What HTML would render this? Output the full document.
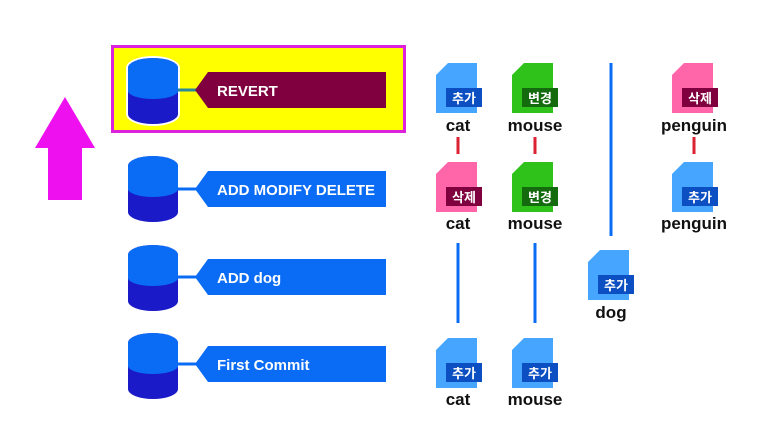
<!DOCTYPE html>
<html><head><meta charset="utf-8"><style>
html,body{margin:0;padding:0;background:#fff;width:774px;height:429px;overflow:hidden}
svg text{font-family:"Liberation Sans","Noto Sans CJK KR",sans-serif;font-weight:bold}
</style></head><body>
<svg width="774" height="429" viewBox="0 0 774 429" xmlns="http://www.w3.org/2000/svg">
<defs>
<g id="cyl">
  <path d="M0,10 A25,10 0 0 1 50,10 L50,56 A25,10 0 0 1 0,56 Z" fill="#1a1ac8"/>
  <path d="M0,10 A25,10 0 0 1 50,10 L50,33 A25,8 0 0 1 0,33 Z" fill="#0a6cf5"/>
</g>
</defs>
<!-- arrow -->
<polygon points="65,97 95,148 82,148 82,200 48,200 48,148 35,148" fill="#ee10ee"/>
<!-- yellow box -->
<rect x="112.5" y="46.5" width="292" height="85" fill="#ffff00" stroke="#dd22dd" stroke-width="3"/>
<!-- cylinders -->
<g transform="translate(128,58)"><path d="M-2,10 A27,12 0 0 1 52,10 L52,56 A27,12 0 0 1 -2,56 Z" fill="#fff"/><use href="#cyl"/></g>
<g transform="translate(128,156)"><use href="#cyl"/></g>
<g transform="translate(128,245)"><use href="#cyl"/></g>
<g transform="translate(128,333)"><use href="#cyl"/></g>
<!-- connectors -->
<g stroke-width="3">
<line x1="178" y1="90" x2="198" y2="90" stroke="#2a8a9a"/>
<line x1="178" y1="189" x2="198" y2="189" stroke="#0a6cf5"/>
<line x1="178" y1="277" x2="198" y2="277" stroke="#0a6cf5"/>
<line x1="178" y1="364" x2="198" y2="364" stroke="#0a6cf5"/>
</g>
<!-- banners -->
<polygon points="195,90 208,72 386,72 386,108 208,108" fill="#80003f"/>
<polygon points="195,189 208,171 386,171 386,207 208,207" fill="#0a6cf5"/>
<polygon points="195,277 208,259 386,259 386,295 208,295" fill="#0a6cf5"/>
<polygon points="195,364 208,346 386,346 386,382 208,382" fill="#0a6cf5"/>
<g fill="#fff" font-size="15">
<text x="217" y="96">REVERT</text>
<text x="217" y="195">ADD MODIFY DELETE</text>
<text x="217" y="283">ADD dog</text>
<text x="217" y="370">First Commit</text>
</g>
<!-- lines -->
<g stroke-width="3">
<line x1="458" y1="137" x2="458" y2="154" stroke="#dd2233"/>
<line x1="535" y1="137" x2="535" y2="154" stroke="#dd2233"/>
<line x1="694" y1="137" x2="694" y2="154" stroke="#dd2233"/>
<line x1="458" y1="243" x2="458" y2="323" stroke="#0a6cf5"/>
<line x1="535" y1="243" x2="535" y2="323" stroke="#0a6cf5"/>
<line x1="611" y1="63" x2="611" y2="236" stroke="#0a6cf5"/>
</g>
<!-- file icons -->
<g font-size="13">
<!-- row1 -->
<polygon points="448,63 477,63 477,113 436,113 436,75" fill="#45a5ff"/>
<rect x="446" y="88" width="36" height="19" fill="#0b4fc2"/><text x="464" y="103" fill="#fff" text-anchor="middle">추가</text>
<polygon points="524,63 553,63 553,113 512,113 512,75" fill="#2ec21b"/>
<rect x="522" y="88" width="36" height="19" fill="#136b0e"/><text x="540" y="103" fill="#fff" text-anchor="middle">변경</text>
<polygon points="684,63 713,63 713,113 672,113 672,75" fill="#ff66aa"/>
<rect x="682" y="88" width="36" height="19" fill="#80003f"/><text x="700" y="103" fill="#fff" text-anchor="middle">삭제</text>
<!-- row2 -->
<polygon points="448,162 477,162 477,212 436,212 436,174" fill="#ff66aa"/>
<rect x="446" y="187" width="36" height="19" fill="#80003f"/><text x="464" y="202" fill="#fff" text-anchor="middle">삭제</text>
<polygon points="524,162 553,162 553,212 512,212 512,174" fill="#2ec21b"/>
<rect x="522" y="187" width="36" height="19" fill="#136b0e"/><text x="540" y="202" fill="#fff" text-anchor="middle">변경</text>
<polygon points="684,162 713,162 713,212 672,212 672,174" fill="#45a5ff"/>
<rect x="682" y="187" width="36" height="19" fill="#0b4fc2"/><text x="700" y="202" fill="#fff" text-anchor="middle">추가</text>
<!-- dog -->
<polygon points="600,250 629,250 629,300 588,300 588,262" fill="#45a5ff"/>
<rect x="598" y="275" width="36" height="19" fill="#0b4fc2"/><text x="616" y="290" fill="#fff" text-anchor="middle">추가</text>
<!-- bottom -->
<polygon points="448,338 477,338 477,388 436,388 436,350" fill="#45a5ff"/>
<rect x="446" y="363" width="36" height="19" fill="#0b4fc2"/><text x="464" y="378" fill="#fff" text-anchor="middle">추가</text>
<polygon points="524,338 553,338 553,388 512,388 512,350" fill="#45a5ff"/>
<rect x="522" y="363" width="36" height="19" fill="#0b4fc2"/><text x="540" y="378" fill="#fff" text-anchor="middle">추가</text>
</g>
<g font-size="17" fill="#111" text-anchor="middle">
<text x="458" y="131">cat</text>
<text x="535" y="131">mouse</text>
<text x="694" y="131">penguin</text>
<text x="458" y="229">cat</text>
<text x="535" y="229">mouse</text>
<text x="694" y="229">penguin</text>
<text x="611" y="318">dog</text>
<text x="458" y="405">cat</text>
<text x="535" y="405">mouse</text>
</g>
</svg>
</body></html>
